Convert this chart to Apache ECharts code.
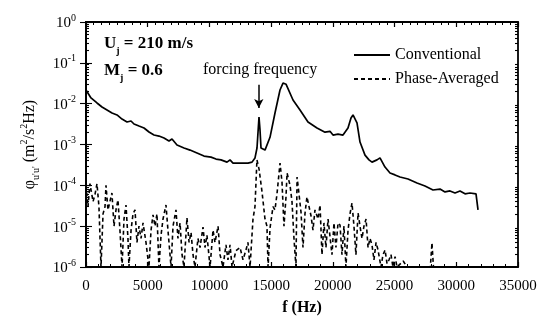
<!DOCTYPE html>
<html>
<head>
  <meta charset="utf-8">
  <title>PSD</title>
  <script src="https://cdn.jsdelivr.net/npm/echarts@6/dist/echarts.min.js"></script>
  <style>
  #main{ width:545px; height:328px; position:absolute; top:0; left:0; }
  body{ margin:0; background:#fff; }
  </style>
</head>
<body>
  <div id="main"></div>
  <script type="text/javascript">
  // conventional spectrum (Hz, m^2/s^2Hz)
  var convFreq = [0,405,891,1296,1701,2107,2512,2917,3322,3646,3889,4294,4699,5104,5509,5914,6319,6724,6967,7373,7940,8426,8993,9560,10128,10533,10938,11424,11667,11910,12558,13125,13449,13692,13854,14016,14097,14178,14502,14907,15312,15718,15961,16204,16366,16771,17338,17986,18715,19363,19768,20011,20416,20821,21226,21470,21632,21956,22199,22604,22928,23171,23576,23819,24225,24630,25035,25440,26088,26817,27465,28113,28681,29086,29491,29896,30301,30707,31112,31598,31760];
  var convVal = [0.0216,0.0138,0.0104,0.0083,0.0070,0.0059,0.0053,0.0042,0.00356,0.00376,0.00318,0.00284,0.00254,0.00202,0.00171,0.00161,0.00144,0.00122,0.00136,9.7e-4,8.2e-4,7.3e-4,6.2e-4,5.2e-4,4.9e-4,4.4e-4,4.2e-4,3.7e-4,4.2e-4,3.5e-4,3.5e-4,3.5e-4,3.7e-4,4.7e-4,8.2e-4,4.7e-3,2.3e-3,8.2e-4,7.3e-4,1.5e-3,5.9e-3,0.0216,0.032,0.030,0.029,0.0123,7.0e-3,3.56e-3,2.54e-3,2.0e-3,2.1e-3,1.7e-3,1.8e-3,1.7e-3,2.54e-3,4.45e-3,5.3e-3,3.4e-3,1.15e-3,5.5e-4,4.2e-4,3.7e-4,4.2e-4,4.7e-4,2.8e-4,2.0e-4,1.8e-4,1.6e-4,1.43e-4,1.14e-4,9.6e-5,7.7e-5,8.1e-5,6.9e-5,7.3e-5,6.5e-5,7.3e-5,6.2e-5,6.5e-5,6.2e-5,2.5e-5];

  // phase-averaged spectrum
  var phaseFreq = [0,160,320,570,730,890,1050,1215,1380,1540,1620,1780,1940,2100,2270,2430,2590,2750,2920,3080,3240,3400,3480,3650,3810,3970,4130,4290,4460,4620,4860,5100,5270,5430,5590,5750,5910,6080,6240,6480,6640,6890,7050,7290,7450,7620,7780,7940,8180,8350,8510,8670,8830,9070,9240,9480,9640,9800,10050,10290,10450,10700,10860,11100,11340,11500,11670,11830,12150,12480,12720,12960,13120,13290,13530,13690,13850,14020,14260,14500,14660,14750,14910,15070,15150,15310,15470,15720,15880,16040,16200,16290,16530,16690,16850,17010,17100,17260,17420,17580,17740,17900,18070,18230,18390,18550,18800,18960,19120,19280,19440,19610,19770,19930,20090,20250,20420,20580,20740,20900,21060,21230,21390,21550,21710,21870,22040,22200,22360,22520,22690,22850,23010,23170,23330,23500,23660,23900,24060,24230,24390,24550,24710,24870,25040,25200,25700,26000,27900,28030,28150];
  var phaseVal = [1e-4,3e-5,1.1e-4,4e-5,6e-5,1.1e-4,3e-5,1e-6,2e-5,3e-5,1e-4,2.5e-5,4e-5,6.5e-5,1e-5,2.5e-5,4.4e-5,8e-6,1e-6,1.5e-5,3.3e-5,5e-6,1e-6,8e-6,2e-5,2.5e-5,4e-6,1e-5,5e-6,1.2e-5,4e-6,1e-6,8e-6,1.9e-5,1e-5,2e-5,1e-6,6e-6,1.5e-5,3.3e-5,8e-6,1e-6,1e-5,2.5e-5,5e-6,1.2e-5,2e-6,1e-6,1.6e-5,4e-6,7e-6,2e-6,1e-6,5e-6,3e-6,9.5e-6,3e-6,6e-6,1e-6,8e-6,4e-6,1e-5,2e-6,1e-6,3.5e-6,1.5e-6,3.5e-6,1e-6,2.5e-6,3e-6,1.5e-6,2.6e-6,4e-6,1e-6,1.5e-5,3e-5,4.2e-4,2.5e-4,7e-5,1.5e-5,1e-5,1e-6,9e-6,2e-5,3e-5,2.5e-5,6e-5,3.5e-4,1.2e-4,1e-5,5e-5,2e-4,1e-4,4e-5,5e-6,1e-6,1.6e-4,6e-5,2.2e-5,3e-6,2e-5,5.2e-5,3e-5,1.8e-5,8e-6,2.5e-5,1.5e-5,3.3e-5,2e-6,1.2e-5,3e-6,1.5e-5,1.4e-5,2e-6,1.2e-5,3e-6,1.2e-5,1.07e-5,2e-6,1e-5,1e-6,8e-6,2e-5,3.7e-5,1e-5,2e-6,2.1e-5,1e-5,5e-6,1e-5,1.5e-5,3e-6,5e-6,3.5e-6,1.5e-6,4e-6,2.6e-6,1e-6,2e-6,2.6e-6,1.2e-6,1.5e-6,2e-6,1e-6,1.8e-6,1e-6,1.4e-6,1e-6,1e-6,3.9e-6,1e-6];

  var xTicks = [0,5000,10000,15000,20000,25000,30000,35000];
  var yDecades = [1e-6,1e-5,1e-4,1e-3,1e-2,1e-1,1];
  var forcingFreq = 14000, arrowFrom = 0.029, arrowTo = 0.0078;

  var serif = '"Liberation Serif", "DejaVu Serif", serif';

  function pairs(xs, ys) {
    var out = [];
    for (var i = 0; i < xs.length; i++) out.push([xs[i], ys[i]]);
    return out;
  }

  // minor tick positions 2..9 in every decade
  var yMinor = [];
  for (var d = 0; d < yDecades.length - 1; d++) {
    for (var k = 2; k <= 9; k++) yMinor.push(yDecades[d] * k);
  }

  var myChart = echarts.init(document.getElementById('main'));

  function xAxisOf(pos, minorSplit, withLabels) {
    return {
      type: 'value', position: pos, min: xTicks[0], max: xTicks[xTicks.length - 1], interval: 5000,
      axisLine: { lineStyle: { color: '#000', width: 1.8 } },
      axisTick: { inside: true, length: 5, lineStyle: { color: '#000', width: 1.2 } },
      minorTick: { show: true, splitNumber: minorSplit, length: 3, lineStyle: { color: '#000', width: 1 } },
      splitLine: { show: false },
      axisLabel: withLabels ? {
        fontFamily: serif, fontSize: 15, color: '#000', margin: 12,
        formatter: function (v) { return String(v); }
      } : { show: false }
    };
  }
  function yAxisOf(pos, tickVals, tickLen, withLabels) {
    var ax = {
      type: 'log', logBase: 10, min: yDecades[0], max: yDecades[yDecades.length - 1], position: pos,
      axisLine: { lineStyle: { color: '#000', width: 1.8 } },
      axisTick: { inside: true, length: tickLen, customValues: tickVals, lineStyle: { color: '#000', width: 1.1 } },
      splitLine: { show: false },
      axisLabel: { show: false }
    };
    if (withLabels) {
      ax.axisLabel = {
        margin: 10,
        customValues: yDecades,
        formatter: function (v) {
          var e = Math.round(Math.log(v) / Math.LN10);
          return '{b|10}{s|' + e + '}';
        },
        rich: {
          b: { fontFamily: serif, fontSize: 15, color: '#000', verticalAlign: 'bottom' },
          s: { fontFamily: serif, fontSize: 10, color: '#000', verticalAlign: 'bottom', padding: [0, 0, 8, 0] }
        }
      };
      ax.name = '{a|φ}{sub|u\'u\'}{a| (m}{sup|2}{a|/s}{sup|2}{a|Hz)}';
      ax.nameLocation = 'middle';
      ax.nameGap = 46;
      ax.nameRotate = 90;
      ax.nameTextStyle = {
        fontFamily: serif, fontSize: 16, color: '#000',
        rich: {
          a: { fontFamily: serif, fontSize: 16, color: '#000', verticalAlign: 'bottom' },
          sub: { fontFamily: serif, fontSize: 10, color: '#000', verticalAlign: 'bottom', padding: [0, 0, -4, 0] },
          sup: { fontFamily: serif, fontSize: 10, color: '#000', verticalAlign: 'bottom', padding: [0, 0, 8, 0] }
        }
      };
    }
    return ax;
  }

  var xBottom = xAxisOf('bottom', 5, true);
  xBottom.name = 'f (Hz)';
  xBottom.nameLocation = 'middle';
  xBottom.nameGap = 33;
  xBottom.nameTextStyle = { fontFamily: serif, fontSize: 16, color: '#000', fontWeight: 'bold' };

  var option = {
    backgroundColor: '#fff',
    animation: false,
    grid: { left: 86, top: 22, right: 27, bottom: 61 },
    legend: {
      orient: 'vertical', left: 348, top: 42, itemGap: 8,
      itemWidth: 36, itemHeight: 12,
      itemStyle: { opacity: 0 },
      textStyle: { fontFamily: serif, fontSize: 16, color: '#000' },
      data: ['Conventional', 'Phase-Averaged']
    },
    xAxis: [xBottom, xAxisOf('top', 8, false)],
    yAxis: [
      yAxisOf('left', yDecades, 6, true),
      yAxisOf('right', yDecades, 6, false),
      yAxisOf('left', yMinor, 3, false),
      yAxisOf('right', yMinor, 3, false)
    ],
    series: [
      {
        name: 'Conventional', type: 'line', symbol: 'none',
        xAxisIndex: 0, yAxisIndex: 0,
        lineStyle: { color: '#000', width: 1.7 },
        itemStyle: { color: '#000' },
        data: pairs(convFreq, convVal),
        markLine: {
          silent: true, symbol: ['none', 'arrow'], symbolSize: [7, 9],
          label: { show: false },
          lineStyle: { color: '#000', width: 1.5, type: 'solid' },
          data: [[{ coord: [forcingFreq, arrowFrom] }, { coord: [forcingFreq, arrowTo] }]]
        }
      },
      {
        name: 'Phase-Averaged', type: 'line', symbol: 'none',
        xAxisIndex: 0, yAxisIndex: 0,
        lineStyle: { color: '#000', width: 1.6, type: [4, 3] },
        itemStyle: { color: '#000' },
        data: pairs(phaseFreq, phaseVal)
      }
    ],
    graphic: [
      {
        type: 'text', left: 104, top: 35,
        style: {
          text: '{a|U}{s|j}{a| = 210 m/s}',
          rich: {
            a: { fontFamily: serif, fontSize: 17, fontWeight: 'bold', fill: '#000', verticalAlign: 'bottom' },
            s: { fontFamily: serif, fontSize: 10, fontWeight: 'bold', fill: '#000', verticalAlign: 'bottom', padding: [0, 0, -4, 0] }
          }
        }
      },
      {
        type: 'text', left: 104, top: 62,
        style: {
          text: '{a|M}{s|j}{a| = 0.6}',
          rich: {
            a: { fontFamily: serif, fontSize: 17, fontWeight: 'bold', fill: '#000', verticalAlign: 'bottom' },
            s: { fontFamily: serif, fontSize: 10, fontWeight: 'bold', fill: '#000', verticalAlign: 'bottom', padding: [0, 0, -4, 0] }
          }
        }
      },
      {
        type: 'text', left: 203, top: 62,
        style: { text: 'forcing frequency', font: '16px ' + serif, fill: '#000' }
      }
    ]
  };
  myChart.setOption(option);
  window.onresize = myChart.resize;
  </script>
</body>
</html>
